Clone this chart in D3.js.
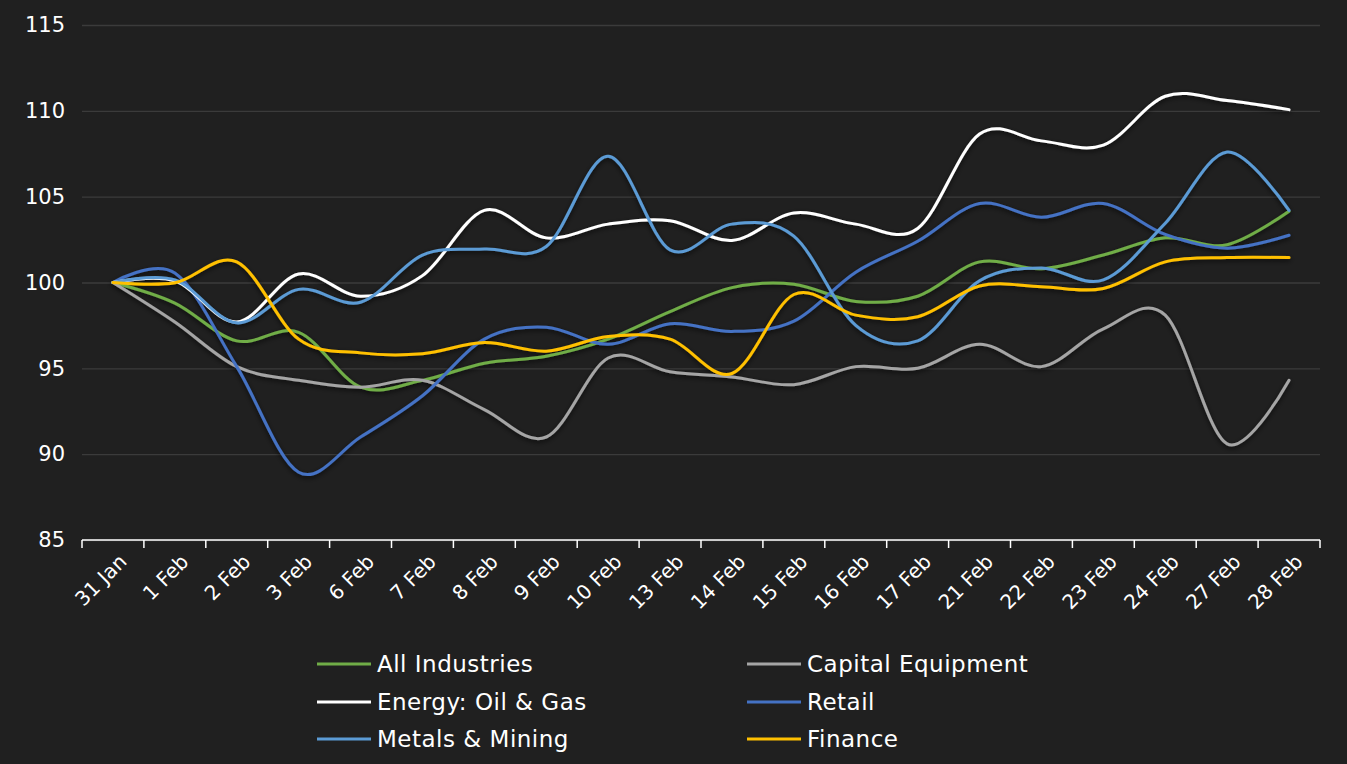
<!DOCTYPE html>
<html>
<head>
<meta charset="utf-8">
<script src="https://cdnjs.cloudflare.com/ajax/libs/d3/7.8.5/d3.min.js"></script>
<style>
  html, body { margin: 0; padding: 0; background: #202020; }
  svg { display: block; font-family: "DejaVu Sans", sans-serif; }
</style>
</head>
<body>
<div id="chart"></div>
<script>
// categories and series
const dates = ["31 Jan", "1 Feb", "2 Feb", "3 Feb", "6 Feb", "7 Feb", "8 Feb", "9 Feb", "10 Feb", "13 Feb",
    "14 Feb", "15 Feb", "16 Feb", "17 Feb", "21 Feb", "22 Feb", "23 Feb", "24 Feb", "27 Feb", "28 Feb"];

const allIndustries = [100, 98.8, 96.6, 97.1, 93.9, 94.3, 95.3, 95.7, 96.7, 98.3,
    99.7, 99.9, 98.9, 99.2, 101.2, 100.8, 101.6, 102.6, 102.2, 104.15];
const capitalEquipment = [100, 97.7, 95.1, 94.3, 93.9, 94.3, 92.6, 91.0, 95.6, 94.8,
    94.5, 94.05, 95.1, 95.0, 96.4, 95.1, 97.3, 98.1, 90.6, 94.3];
const energy = [100, 100.1, 97.7, 100.5, 99.2, 100.4, 104.2, 102.6, 103.4, 103.6,
    102.45, 104.05, 103.4, 103.15, 108.65, 108.25, 108.0, 110.85, 110.6, 110.07];
const retail = [100, 100.55, 95.1, 88.95, 91.0, 93.4, 96.7, 97.4, 96.4, 97.6,
    97.15, 97.75, 100.6, 102.4, 104.6, 103.8, 104.6, 102.8, 102.0, 102.75];
const metals = [100, 100.15, 97.65, 99.6, 98.85, 101.6, 101.95, 102.1, 107.35, 101.9,
    103.4, 102.7, 97.5, 96.6, 100.1, 100.85, 100.15, 103.45, 107.6, 104.2];
const finance = [100, 99.98, 101.2, 96.7, 95.9, 95.85, 96.5, 96.0, 96.85, 96.7,
    94.7, 99.3, 98.1, 98.0, 99.8, 99.75, 99.65, 101.2, 101.45, 101.45];

const yTicks = [85, 90, 95, 100, 105, 110, 115];

const series = [
    { name: "All Industries", values: allIndustries, color: "#70ad47" },
    { name: "Capital Equipment", values: capitalEquipment, color: "#a5a5a5" },
    { name: "Energy: Oil & Gas", values: energy, color: "#ffffff" },
    { name: "Retail", values: retail, color: "#4472c4" },
    { name: "Metals & Mining", values: metals, color: "#5b9bd5" },
    { name: "Finance", values: finance, color: "#ffc000" }
];
// drawing order (top-most last)
const drawOrder = ["All Industries", "Capital Equipment", "Retail", "Energy: Oil & Gas", "Metals & Mining", "Finance"];

const W = 1347, H = 764;
const margin = { top: 25, right: 27, bottom: 224, left: 82 };
const width = W - margin.left - margin.right;
const height = H - margin.top - margin.bottom;

const root = d3.select("#chart").append("svg")
    .attr("width", W)
    .attr("height", H);

root.append("rect").attr("width", W).attr("height", H).attr("fill", "#202020");

// soft drop shadow under the lines
const defs = root.append("defs");
const f = defs.append("filter").attr("id", "shadow")
    .attr("x", "-5%").attr("y", "-5%").attr("width", "110%").attr("height", "120%");
f.append("feDropShadow")
    .attr("dx", 0).attr("dy", 2).attr("stdDeviation", 2.5)
    .attr("flood-color", "#000").attr("flood-opacity", 0.7);

const svg = root.append("g")
    .attr("transform", `translate(${margin.left},${margin.top})`);

const xScale = d3.scaleBand().domain(dates).range([0, width]);
const yScale = d3.scaleLinear().domain([85, 115]).range([height, 0]);

// gridlines + y labels
svg.append("g")
    .attr("class", "grid")
    .call(d3.axisLeft(yScale).tickValues(yTicks).tickSize(-width).tickPadding(17))
    .call(g => g.select(".domain").remove())
    .call(g => g.selectAll(".tick line").attr("stroke", "#3b3b3b").attr("stroke-width", 1.3))
    .call(g => g.selectAll(".tick text")
        .attr("fill", "#ffffff")
        .attr("font-size", 21)
        .attr("font-family", "DejaVu Sans, sans-serif"));

// x axis with ticks between categories
const xAxis = svg.append("g")
    .attr("transform", `translate(0,${height})`);
xAxis.append("line")
    .attr("x1", 0).attr("x2", width)
    .attr("stroke", "#ffffff").attr("stroke-width", 1.5);
xAxis.selectAll(".tk")
    .data(dates.concat(["end"]))
    .join("line")
    .attr("class", "tk")
    .attr("x1", (d, i) => i * xScale.step())
    .attr("x2", (d, i) => i * xScale.step())
    .attr("y1", 0).attr("y2", 8)
    .attr("stroke", "#ffffff").attr("stroke-width", 1.5);
xAxis.selectAll(".lbl")
    .data(dates)
    .join("text")
    .attr("class", "lbl")
    .attr("transform", d => `translate(${xScale(d) + xScale.bandwidth() / 2 + 5},${13}) rotate(-45)`)
    .attr("text-anchor", "end")
    .attr("dy", "0.7em")
    .attr("fill", "#ffffff")
    .attr("font-size", 20)
    .text(d => d);

const line = d3.line()
    .x((d, i) => xScale(dates[i]) + xScale.bandwidth() / 2)
    .y(d => yScale(d))
    .curve(d3.curveCardinal.tension(0));

svg.append("g")
    .attr("filter", "url(#shadow)")
    .selectAll("path")
    .data(drawOrder.map(n => series.find(s => s.name === n)))
    .join("path")
    .attr("d", d => line(d.values))
    .attr("fill", "none")
    .attr("stroke", d => d.color)
    .attr("stroke-width", 3)
    .attr("stroke-linecap", "round");

// legend, two columns
const legend = root.append("g");
const cols = [317, 747];
const rows = [664, 702, 739];
series.forEach((s, i) => {
    const x = cols[i % 2], y = rows[Math.floor(i / 2)];
    legend.append("line")
        .attr("x1", x).attr("x2", x + 54)
        .attr("y1", y).attr("y2", y)
        .attr("stroke", s.color).attr("stroke-width", 3);
    legend.append("text")
        .attr("x", x + 60).attr("y", y)
        .attr("dy", "0.35em")
        .attr("fill", "#ffffff")
        .attr("font-size", 23)
        .attr("letter-spacing", 0.5)
        .text(s.name);
});
</script>
</body>
</html>
